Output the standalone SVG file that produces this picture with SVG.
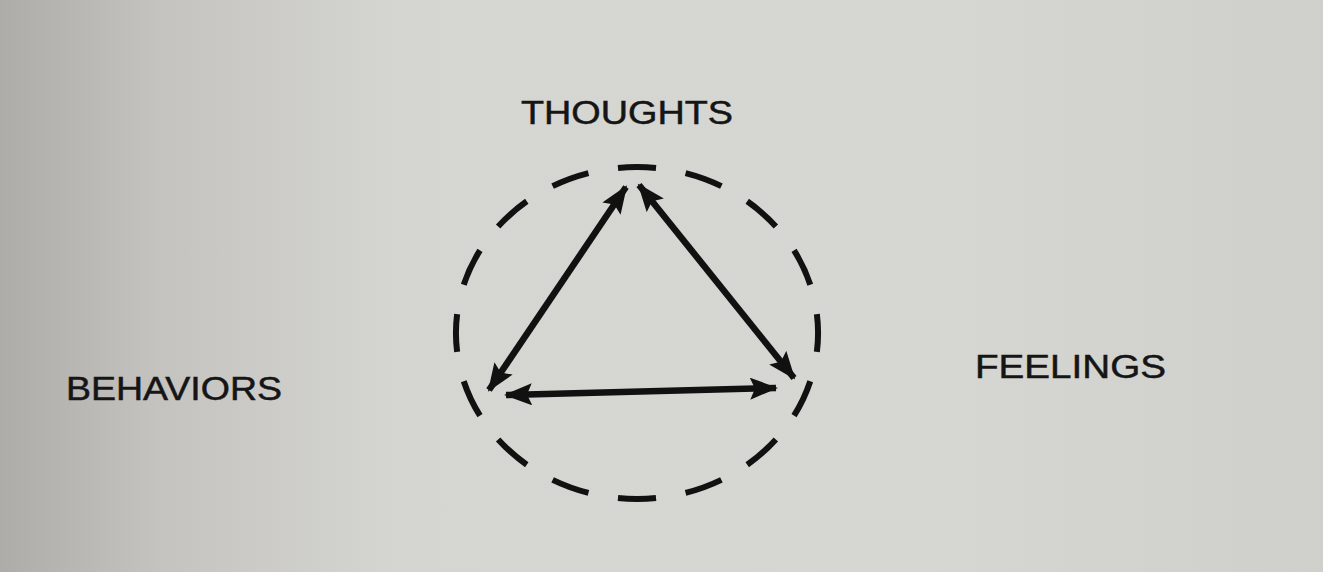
<svg xmlns="http://www.w3.org/2000/svg" width="1323" height="572" viewBox="0 0 1323 572">
<defs>
<linearGradient id="bg" x1="0" y1="0" x2="1" y2="0">
<stop offset="0" stop-color="#aeaca8"/>
<stop offset="0.12" stop-color="#c4c3bf"/>
<stop offset="0.3" stop-color="#d5d5d1"/>
<stop offset="0.7" stop-color="#d6d6d2"/>
<stop offset="1" stop-color="#cfcfcb"/>
</linearGradient>
<marker id="ah" viewBox="0 0 28 22" refX="26" refY="11" markerWidth="28" markerHeight="22" markerUnits="userSpaceOnUse" orient="auto-start-reverse">
<path d="M0,0 L28,11 L0,22 L5,11 Z" fill="#111"/>
</marker>
<style>
.lbl{font-family:"Liberation Sans",Arial,sans-serif;font-size:33px;fill:#151515;stroke:#151515;stroke-width:0.5}
.arr{stroke:#111;stroke-width:6.5;fill:none;marker-start:url(#ah);marker-end:url(#ah)}
.ring{stroke:#111;stroke-width:6;fill:none}
</style>
</defs>
<rect width="1323" height="572" fill="url(#bg)"/>
<g id="cycle-ring">
<path class="ring" d="M637,167 A181,166 0 1,1 637,499 A181,166 0 1,1 637,167" pathLength="16" stroke-dasharray="0.56 0.44" stroke-dashoffset="0.28"/>
</g>
<g id="thoughts"><text class="lbl" x="521" y="124" textLength="212" lengthAdjust="spacingAndGlyphs">THOUGHTS</text></g>
<g id="behaviors"><text class="lbl" x="66" y="400" textLength="216" lengthAdjust="spacingAndGlyphs">BEHAVIORS</text></g>
<g id="feelings"><text class="lbl" x="975" y="378" textLength="191" lengthAdjust="spacingAndGlyphs">FEELINGS</text></g>
<g id="connectors">
<line class="arr" x1="489" y1="390" x2="626" y2="187"/>
<line class="arr" x1="639" y1="185" x2="794" y2="378"/>
<line class="arr" x1="506" y1="395" x2="776" y2="388"/>
</g>
</svg>
